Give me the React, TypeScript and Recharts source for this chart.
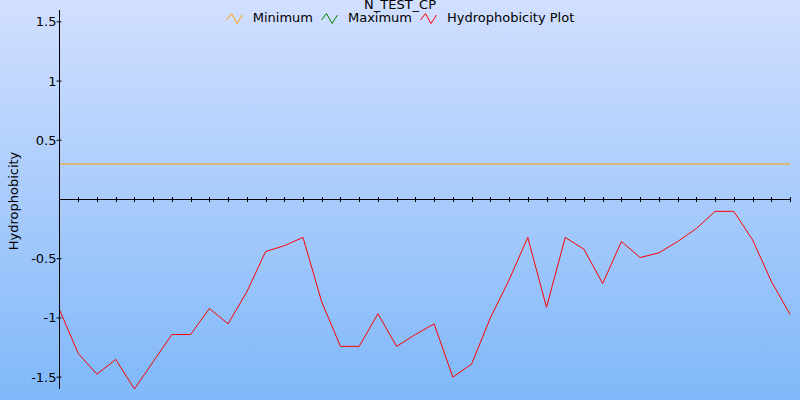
import React from 'react';
import { LineChart, Line, XAxis, YAxis, ReferenceLine, Legend } from 'recharts';

const positions = [
  1, 2, 3, 4, 5, 6, 7, 8, 9, 10,
  11, 12, 13, 14, 15, 16, 17, 18, 19, 20,
  21, 22, 23, 24, 25, 26, 27, 28, 29, 30,
  31, 32, 33, 34, 35, 36, 37, 38, 39, 40,
];

const hydrophobicity = [
  -0.93, -1.3, -1.475, -1.35, -1.6, -1.37, -1.14, -1.14, -0.92, -1.05,
  -0.78, -0.44, -0.39, -0.32, -0.865, -1.24, -1.24, -0.965, -1.24, -1.14,
  -1.05, -1.5, -1.39, -1.0, -0.68, -0.32, -0.91, -0.32, -0.42, -0.71,
  -0.355, -0.49, -0.45, -0.355, -0.245, -0.1, -0.1, -0.34, -0.69, -0.97,
];

const minimumThreshold = 0.3;
const maximumThreshold: number | null = null;

const yTicks = [-1.5, -1, -0.5, 0.5, 1, 1.5];
const yDomain = [-1.6, 1.6];

const title = 'N_TEST_CP';
const yLabel = 'Hydrophobicity';

const seriesInfo = [
  { key: 'minimum', name: 'Minimum', color: '#ffa000' },
  { key: 'maximum', name: 'Maximum', color: '#008000' },
  { key: 'hydro', name: 'Hydrophobicity Plot', color: '#ff0000' },
];

const data = positions.map((p, i) => ({
  pos: p,
  hydro: hydrophobicity[i],
  minimum: minimumThreshold,
  maximum: maximumThreshold,
}));

const FONT = '"DejaVu Sans", sans-serif';

const YTick = (props: any) => {
  const { x, y, payload } = props;
  return (
    <g>
      <line x1={x - 3} x2={x + 2} y1={y} y2={y} stroke="#000" strokeWidth={1} />
      <text
        x={x - 3}
        y={y}
        textAnchor="end"
        dominantBaseline="central"
        fontSize={13}
        fontFamily={FONT}
        fill="#000"
      >
        {payload.value}
      </text>
    </g>
  );
};

const ZeroAxis = (props: any) => {
  const { x1, x2, y1 } = props;
  if (x1 == null || x2 == null || y1 == null) return null;
  const n = positions.length;
  const step = (x2 - x1) / (n - 1);
  return (
    <g>
      <line x1={x1} x2={x2} y1={y1} y2={y1} stroke="#000" strokeWidth={1} />
      {positions.slice(1).map((p, i) => {
        const tx = Math.round(x1 + step * (i + 1)) + 0.5;
        return <line key={p} x1={tx} x2={tx} y1={y1 - 2.5} y2={y1 + 2.5} stroke="#000" strokeWidth={1} />;
      })}
    </g>
  );
};

const LegendIcon = ({ color }: { color: string }) => (
  <svg width={17} height={11} style={{ display: 'block' }}>
    <polyline points="0.5,7 5.5,0.5 11,10.5 16.5,2" fill="none" stroke={color} strokeWidth={1} />
  </svg>
);

const LegendContent = () => (
  <div style={{ width: 800, position: 'relative', height: 30, fontFamily: FONT, fontSize: 13, color: '#000' }}>
    <div style={{ position: 'absolute', top: -3, left: 0, width: 800, textAlign: 'center', lineHeight: '15px' }}>
      {title}
    </div>
    <div
      style={{
        position: 'absolute',
        top: 10,
        left: 0,
        width: 800,
        display: 'flex',
        justifyContent: 'center',
        alignItems: 'center',
        lineHeight: '15px',
      }}
    >
      {seriesInfo.map((s, i) => (
        <div key={s.key} style={{ display: 'flex', alignItems: 'center', marginRight: i < seriesInfo.length - 1 ? 8 : 0 }}>
          <div style={{ marginRight: 10, marginTop: 1 }}>
            <LegendIcon color={s.color} />
          </div>
          <span style={{ whiteSpace: 'nowrap' }}>{s.name}</span>
        </div>
      ))}
    </div>
  </div>
);

const YLabel = (props: any) => {
  const vb = props.viewBox || {};
  const cy = (vb.y ?? 10) + (vb.height ?? 379) / 2 + 1.5;
  const cx = 17.7;
  return (
    <text
      x={cx}
      y={cy}
      transform={`rotate(-90, ${cx}, ${cy})`}
      textAnchor="middle"
      fontSize={13}
      fontFamily={FONT}
      fill="#000"
    >
      {yLabel}
    </text>
  );
};

export default function App() {
  return (
    <div
      style={{
        position: 'absolute',
        left: 0,
        top: 0,
        width: 800,
        height: 400,
        background: 'linear-gradient(to bottom, #d2dfff 0%, #7fb8f9 100%)',
        overflow: 'hidden',
      }}
    >
      <LineChart
        width={800}
        height={400}
        data={data}
        margin={{ top: 10, right: 10, bottom: 11, left: 0.5 }}
      >
        <XAxis dataKey="pos" hide />
        <YAxis
          width={59}
          domain={yDomain}
          ticks={yTicks}
          allowDataOverflow
          axisLine={{ stroke: '#000', strokeWidth: 1 }}
          tickLine={false}
          tickSize={0}
          tickMargin={0}
          tick={<YTick />}
          interval={0}
          label={{ content: <YLabel /> }}
        />
        <ReferenceLine y={0} shape={<ZeroAxis />} ifOverflow="extendDomain" />
        <Legend
          verticalAlign="middle"
          align="center"
          layout="horizontal"
          content={<LegendContent />}
          wrapperStyle={{ top: 0, left: 0, width: 800, height: 30 }}
        />
        {seriesInfo.map((s) => (
          <Line
            key={s.key}
            type="linear"
            dataKey={s.key}
            name={s.name}
            stroke={s.color}
            strokeWidth={1}
            dot={false}
            activeDot={false}
            isAnimationActive={false}
            connectNulls={false}
          />
        ))}
      </LineChart>
    </div>
  );
}
